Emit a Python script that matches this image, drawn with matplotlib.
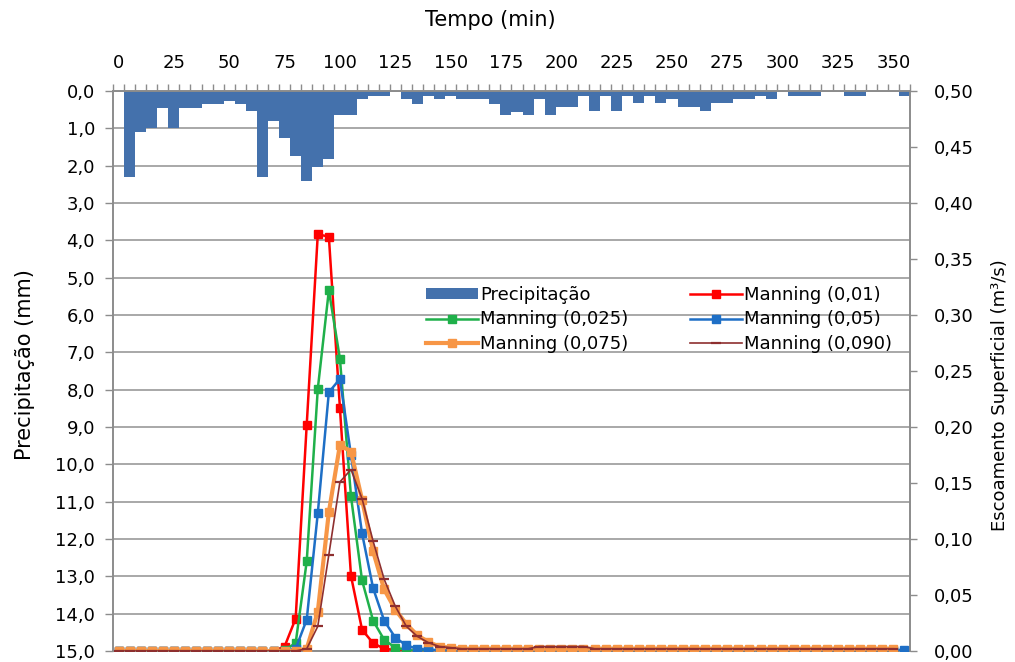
import matplotlib
matplotlib.use("Agg")
import matplotlib.pyplot as plt
import numpy as np
from matplotlib.ticker import FuncFormatter

plt.rcParams['font.family'] = ['DejaVu Sans']

# ---------------- data ----------------
tempo = [0, 5, 10, 15, 20, 25, 30, 35, 40, 45, 50, 55, 60, 65, 70, 75, 80, 85,
         90, 95, 100, 105, 110, 115, 120, 125, 130, 135, 140, 145, 150, 155,
         160, 165, 170, 175, 180, 185, 190, 195, 200, 205, 210, 215, 220, 225,
         230, 235, 240, 245, 250, 255, 260, 265, 270, 275, 280, 285, 290, 295,
         300, 305, 310, 315, 320, 325, 330, 335, 340, 345, 350, 355]

precipitacao = [0.0, 2.3, 1.1, 1.0, 0.45, 1.0, 0.45, 0.45, 0.35, 0.35, 0.26, 0.35,
                0.53, 2.3, 0.8, 1.25, 1.73, 2.4, 2.03, 1.82, 0.63, 0.63, 0.22, 0.13,
                0.13, 0.0, 0.22, 0.35, 0.13, 0.22, 0.13, 0.22, 0.22, 0.22, 0.35, 0.63,
                0.55, 0.63, 0.22, 0.63, 0.42, 0.42, 0.13, 0.53, 0.13, 0.53, 0.13, 0.33,
                0.13, 0.33, 0.22, 0.42, 0.42, 0.53, 0.33, 0.33, 0.22, 0.22, 0.13, 0.22,
                0.0, 0.13, 0.13, 0.13, 0.0, 0.0, 0.13, 0.13, 0.0, 0.0, 0.0, 0.13]

nan = float('nan')
manning_001 = [0, 0, 0, 0, 0, 0, 0, 0, 0, 0, 0, 0, 0, 0, 0, 0.004, 0.029, 0.202,
               0.372, 0.370, 0.217, 0.067, 0.019, 0.007, 0.002, 0.001, 0, 0, 0, 0,
               0, 0, 0, 0, 0, 0, 0, 0, 0, 0, 0, 0, 0, 0, 0, 0, 0, 0, 0, 0, 0, 0, 0,
               0, 0, 0, 0, 0, 0, 0, 0, 0, 0, 0, 0, 0, 0, 0, 0, 0, 0, nan]

manning_0025 = [0, 0, 0, 0, 0, 0, 0, 0, 0, 0, 0, 0, 0, 0, 0, 0.001, 0.007, 0.080,
                0.234, 0.322, 0.261, 0.138, 0.063, 0.027, 0.010, 0.003, 0.001, 0, 0,
                0, 0, 0, 0, 0, 0, 0, 0, 0, 0, 0, 0, 0, 0, 0, 0, 0, 0, 0, 0, 0, 0, 0,
                0, 0, 0, 0, 0, 0, 0, 0, 0, 0, 0, 0, 0, 0, 0, 0, 0, 0, 0, nan]

manning_005 = [0, 0, 0, 0, 0, 0, 0, 0, 0, 0, 0, 0, 0, 0, 0, 0, 0.002, 0.028,
               0.123, 0.231, 0.243, 0.175, 0.105, 0.056, 0.027, 0.012, 0.005, 0.002,
               0.001, 0.001, 0.001, 0.001, 0.001, 0.001, 0.001, 0.001, 0.001, 0.001,
               0.001, 0.001, 0.001, 0.001, 0.001, 0.001, 0.001, 0.001, 0.001, 0.001,
               0.001, 0.001, 0.001, 0.001, 0.001, 0.001, 0.001, 0.001, 0.001, 0.001,
               0.001, 0.001, 0.001, 0.001, 0.001, 0.001, 0.001, 0.001, 0.001, 0.001,
               0.001, 0.001, 0.001, 0.001]

manning_0075 = [0, 0, 0, 0, 0, 0, 0, 0, 0, 0, 0, 0, 0, 0, 0, 0, 0, 0.002,
                0.035, 0.124, 0.184, 0.178, 0.135, 0.089, 0.055, 0.037, 0.024, 0.014,
                0.008, 0.004, 0.003, 0.002, 0.002, 0.002, 0.002, 0.002, 0.002, 0.002,
                0.002, 0.002, 0.002, 0.002, 0.002, 0.002, 0.002, 0.002, 0.002, 0.002,
                0.002, 0.002, 0.002, 0.002, 0.002, 0.002, 0.002, 0.002, 0.002, 0.002,
                0.002, 0.002, 0.002, 0.002, 0.002, 0.002, 0.002, 0.002, 0.002, 0.002,
                0.002, 0.002, 0.002, nan]

manning_0090 = [0, 0, 0, 0, 0, 0, 0, 0, 0, 0, 0, 0, 0, 0, 0, 0, 0, 0.002,
                0.022, 0.086, 0.151, 0.162, 0.136, 0.098, 0.064, 0.040, 0.022, 0.013,
                0.0074, 0.004, 0.003, 0.002, 0.002, 0.002, 0.002, 0.002, 0.002, 0.002,
                0.004, 0.004, 0.004, 0.004, 0.004, 0.002, 0.002, 0.002, 0.002, 0.002,
                0.002, 0.002, 0.002, 0.002, 0.002, 0.002, 0.002, 0.002, 0.002, 0.002,
                0.002, 0.002, 0.002, 0.002, 0.002, 0.002, 0.002, 0.002, 0.002, 0.002,
                0.002, 0.002, 0.002, nan]

tempo_labels = [0, 25, 50, 75, 100, 125, 150, 175, 200, 225, 250, 275, 300, 325, 350]
precip_ticks = [0, 1, 2, 3, 4, 5, 6, 7, 8, 9, 10, 11, 12, 13, 14, 15]
vazao_ticks = [0.0, 0.05, 0.10, 0.15, 0.20, 0.25, 0.30, 0.35, 0.40, 0.45, 0.50]

# ---------------- figure ----------------
W, H = 1015, 662
fig = plt.figure(figsize=(W / 100, H / 100), dpi=100)
ax = fig.add_axes([113 / W, 11 / H, 797 / W, 560 / H])

axis_gray = '#8C8C8C'
grid_gray = '#A8A8A8'
bar_color = '#4471AC'

bars = ax.bar(tempo, precipitacao, width=5.0, color=bar_color, align='center',
              zorder=2, label='Precipitação', linewidth=0)
ax.set_xlim(-2.5, 357.5)
ax.set_ylim(15, 0)

ax.xaxis.tick_top()
ax.set_xticks(tempo_labels)
ax.set_xticks(np.arange(-2.5, 360, 5.0), minor=True)
ax.tick_params(axis='x', which='major', length=0, pad=14, labelsize=13)
ax.tick_params(axis='x', which='minor', length=5, width=1, color=axis_gray, direction='out')

ax.set_yticks(precip_ticks)
ax.yaxis.set_major_formatter(FuncFormatter(lambda v, p: f"{v:.1f}".replace('.', ',')))
ax.tick_params(axis='y', which='major', length=6, width=1, color=axis_gray, pad=7, labelsize=13)
ax.yaxis.grid(True, color=grid_gray, linewidth=1.4)
ax.set_axisbelow(True)
for s in ax.spines.values():
    s.set_color(axis_gray)
    s.set_linewidth(1.2)

ax2 = ax.twinx()
ax2.set_ylim(0, 0.5)
ax2.set_yticks(vazao_ticks)
ax2.yaxis.set_major_formatter(FuncFormatter(lambda v, p: f"{v:.2f}".replace('.', ',')))
ax2.tick_params(axis='y', which='major', length=5, width=1, color=axis_gray, pad=12, labelsize=13)
for s in ax2.spines.values():
    s.set_color(axis_gray)
    s.set_linewidth(1.2)

l_red, = ax2.plot(tempo, manning_001, color='#FF0000', lw=1.8, marker='s', ms=5.5,
                  label='Manning (0,01)', zorder=3)
l_green, = ax2.plot(tempo, manning_0025, color='#1FB04A', lw=1.8, marker='s', ms=5.5,
                    label='Manning (0,025)', zorder=3)
l_blue, = ax2.plot(tempo, manning_005, color='#1E6FC6', lw=1.8, marker='s', ms=5.5,
                   label='Manning (0,05)', zorder=3)
l_orange, = ax2.plot(tempo, manning_0075, color='#F79646', lw=3.0, marker='s', ms=5.5,
                     label='Manning (0,075)', zorder=3)
l_brown, = ax2.plot(tempo, manning_0090, color='#8E2F2F', lw=1.2, marker='_', ms=7,
                    mew=1.6, label='Manning (0,090)', zorder=3)

handles = [bars, l_green, l_orange, l_red, l_blue, l_brown]
labels = [h.get_label() for h in handles]
leg = ax2.legend(handles, labels, ncol=2, frameon=False, loc='upper left',
                 bbox_to_anchor=(426 / W, 1 - 286 / H), bbox_transform=fig.transFigure,
                 fontsize=13, handlelength=2.9, handletextpad=0.1, columnspacing=3.4,
                 labelspacing=0.35, borderpad=0, borderaxespad=0, handleheight=0.5)

fig.text(490 / W, 1 - 20 / H, 'Tempo (min)', ha='center', va='center', fontsize=15)
fig.text(25 / W, 1 - 365 / H, 'Precipitação (mm)', ha='center', va='center',
         rotation=90, fontsize=15)
fig.text(1000 / W, 1 - 395 / H, 'Escoamento Superficial (m³/s)', ha='center',
         va='center', rotation=90, fontsize=13)

fig.savefig('out.png', dpi=100)
